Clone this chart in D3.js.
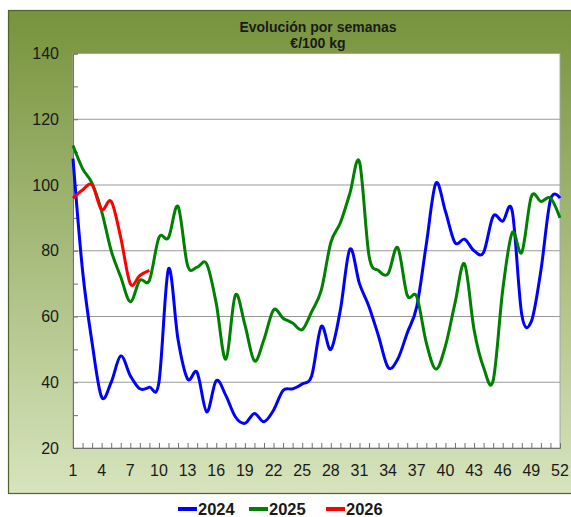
<!DOCTYPE html>
<html>
<head>
<meta charset="utf-8">
<script src="https://cdn.jsdelivr.net/npm/d3@7"></script>
<style>
  body { margin: 0; background: #fff; }
  svg text { font-family: "Liberation Sans", Arial, sans-serif; fill: #1a1a1a; }
</style>
</head>
<body>
<div id="chart"></div>
<script>
// weekly values, €/100 kg
const weeks = d3.range(1, 53);
const years = ['2024', '2025', '2026'];
const colors = ['#0000ff', '#008000', '#ff0000'];

const values2024 = [108, 74, 52, 35.5, 40, 48, 42, 38, 38.5, 40, 74.5, 53, 41, 43, 31, 40.5, 36, 29.5, 27.5, 30.5,
    28, 31.5, 37.5, 38, 39.5, 42, 57, 50, 62, 80.5, 70, 63, 54, 44.5, 47, 55, 63, 82, 100.5, 92,
    82.5, 83.5, 80, 79.5, 90.5, 89, 92, 60.5, 58.5, 74, 95.5, 96];
const values2025 = [112, 105, 100.5, 92, 80, 72, 64.5, 71, 71, 84, 84, 93.5, 75.5, 75, 76, 64, 47, 66.5, 57.5, 46.5,
    53, 62, 59.5, 58, 56, 61.5, 68, 82.5, 88.5, 97.5, 107, 78.5, 74, 73, 81, 66.5, 66, 52, 44, 51,
    64, 76, 56, 44.5, 40.5, 68, 85.5, 79.5, 96.5, 95, 96, 90];
const values2026 = [96, 98.5, 100, 92.5, 95, 84, 70, 72.5, 74];

const yTicks = [20, 40, 60, 80, 100, 120, 140];
const xLabels = d3.range(1, 53, 3);

const series = [values2024, values2025, values2026];

const width = 571, height = 517;
const plot = { left: 73, right: 560, top: 53.5, bottom: 448 };

const svg = d3.select('#chart').append('svg')
    .attr('width', width)
    .attr('height', height);

// background gradient of the chart frame
const defs = svg.append('defs');
const grad = defs.append('linearGradient')
    .attr('id', 'frameGrad')
    .attr('x1', 0).attr('y1', 0).attr('x2', 0).attr('y2', 1);
grad.append('stop').attr('offset', '0%').attr('stop-color', '#77933c');
grad.append('stop').attr('offset', '100%').attr('stop-color', '#d7e4bd');

svg.append('rect')
    .attr('x', 8.5).attr('y', 10.5)
    .attr('width', 580).attr('height', 483)
    .attr('fill', 'url(#frameGrad)')
    .attr('stroke', '#4f6228')
    .attr('stroke-width', 1.2);

// title
svg.append('text')
    .attr('x', 318).attr('y', 32)
    .attr('text-anchor', 'middle')
    .style('font-size', '14px')
    .style('font-weight', 'bold')
    .text('Evolución por semanas');
svg.append('text')
    .attr('x', 318).attr('y', 48)
    .attr('text-anchor', 'middle')
    .style('font-size', '14px')
    .style('font-weight', 'bold')
    .text('€/100 kg');

const xScale = d3.scaleLinear().domain([1, 52]).range([plot.left, plot.right]);
const yScale = d3.scaleLinear().domain([20, 140]).range([plot.bottom, plot.top]);

// plot area
svg.append('rect')
    .attr('x', plot.left).attr('y', plot.top)
    .attr('width', plot.right - plot.left).attr('height', plot.bottom - plot.top)
    .attr('fill', '#fff')
    .attr('stroke', '#a6a6a6')
    .attr('stroke-width', 1);

// gridlines
svg.append('g')
    .selectAll('line')
    .data(yTicks.filter(d => d > 20 && d < 140))
    .join('line')
    .attr('x1', plot.left).attr('x2', plot.right)
    .attr('y1', d => yScale(d)).attr('y2', d => yScale(d))
    .attr('stroke', '#999')
    .attr('stroke-width', 1);

// y axis
const yAxis = d3.axisRight(yScale)
    .tickValues(d3.range(20, 141, 10))
    .tickSize(5)
    .tickFormat('');
svg.append('g')
    .attr('transform', `translate(${plot.left},0)`)
    .call(yAxis)
    .call(g => g.selectAll('line, path').attr('stroke', '#707070'));

svg.append('g')
    .selectAll('text')
    .data(yTicks)
    .join('text')
    .attr('x', 59)
    .attr('y', d => yScale(d))
    .attr('dy', '0.35em')
    .attr('text-anchor', 'end')
    .style('font-size', '16px')
    .text(d => d);

// x axis
const xAxis = d3.axisTop(xScale)
    .tickValues(weeks)
    .tickSize(5)
    .tickFormat('');
svg.append('g')
    .attr('transform', `translate(0,${plot.bottom})`)
    .call(xAxis)
    .call(g => g.selectAll('line, path').attr('stroke', '#707070'));

svg.append('g')
    .selectAll('text')
    .data(xLabels)
    .join('text')
    .attr('x', d => xScale(d))
    .attr('y', 476)
    .attr('text-anchor', 'middle')
    .style('font-size', '16px')
    .text(d => d);

// lines
const line = d3.line()
    .x((d, i) => xScale(weeks[i]))
    .y(d => yScale(d))
    .curve(d3.curveCardinal.tension(0));

svg.append('g')
    .selectAll('path')
    .data(series)
    .join('path')
    .attr('d', d => line(d))
    .attr('fill', 'none')
    .attr('stroke', (d, i) => colors[i])
    .attr('stroke-width', 3)
    .attr('stroke-linejoin', 'round');

// legend
const legendX = [178, 249, 326];
const legend = svg.append('g')
    .selectAll('g')
    .data(years)
    .join('g')
    .attr('transform', (d, i) => `translate(${legendX[i]},509)`);
legend.append('line')
    .attr('x1', 0).attr('x2', 19)
    .attr('stroke', (d, i) => colors[i])
    .attr('stroke-width', 4);
legend.append('text')
    .attr('x', 20)
    .attr('dy', '0.36em')
    .style('font-size', '16.5px')
    .style('font-weight', 'bold')
    .text(d => d);
</script>
</body>
</html>
